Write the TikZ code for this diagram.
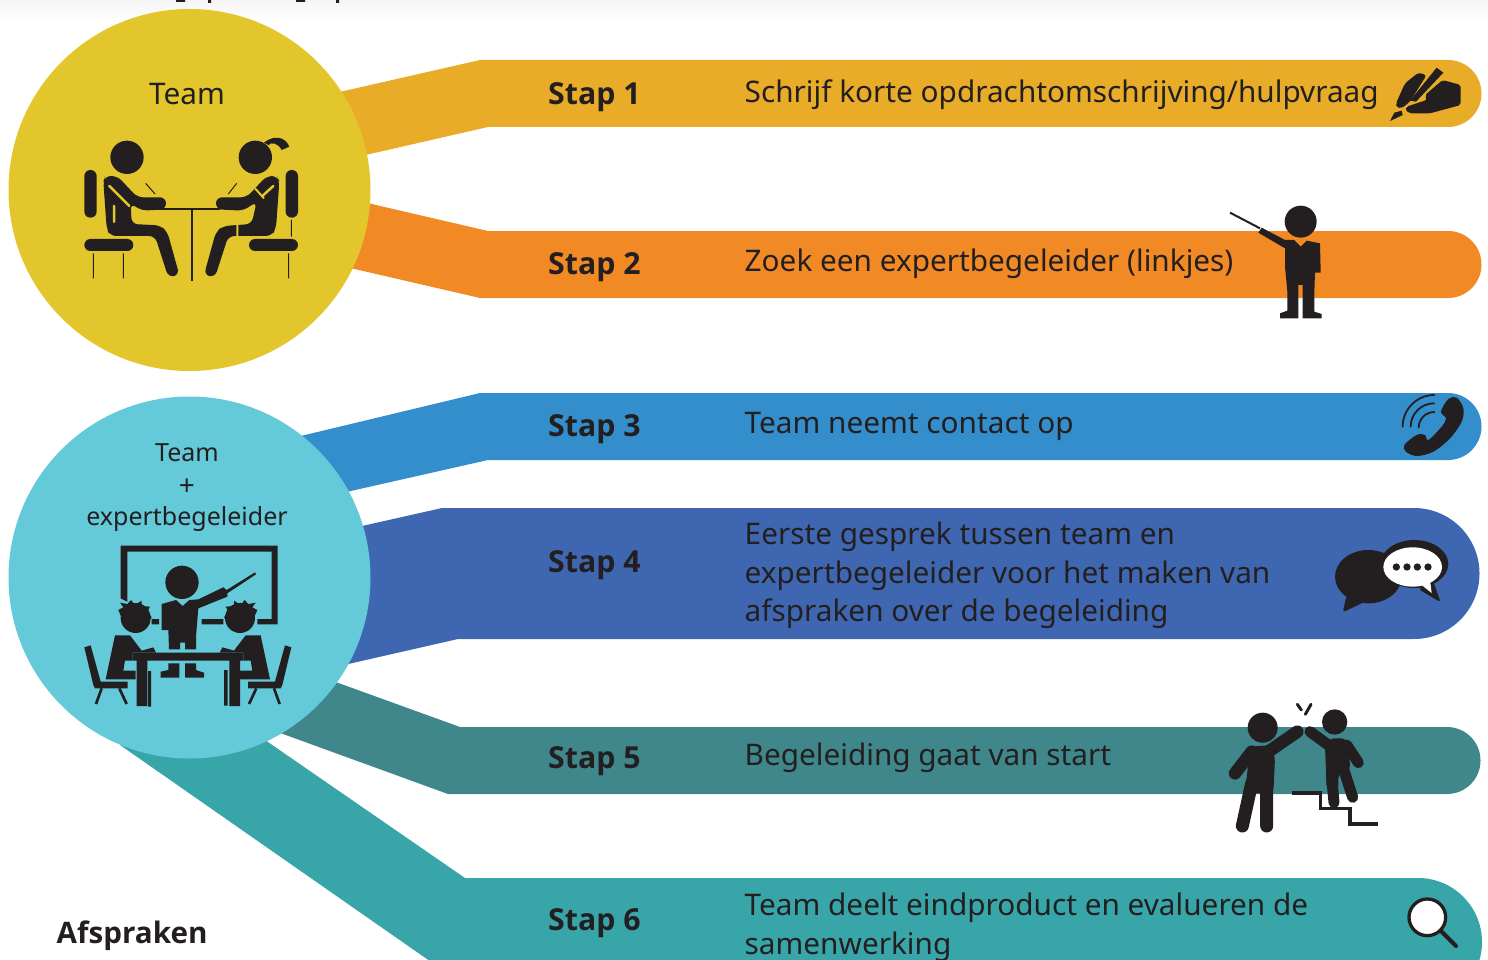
\documentclass[tikz,border=0pt]{standalone}
\usepackage{fontspec}
\setmainfont{Noto Sans}
\newfontfamily\stapfont{Open Sans}
\usetikzlibrary{backgrounds}
\definecolor{ink}{HTML}{231F20}
\definecolor{cyel}{HTML}{E3C62B}
\definecolor{ccya}{HTML}{64C9D8}
\definecolor{bone}{HTML}{E8AC28}
\definecolor{btwo}{HTML}{F18A24}
\definecolor{bthree}{HTML}{348ECB}
\definecolor{bfour}{HTML}{3F67B1}
\definecolor{bfive}{HTML}{3F878B}
\definecolor{bsix}{HTML}{38A6A9}
\tikzset{
 bub/.style={circle,inner sep=0pt,minimum size=362pt},
 steplab/.style={anchor=base west,inner sep=0pt,text=ink,font=\stapfont\fontsize{30.3}{36}\selectfont\bfseries},
 desc/.style={anchor=base west,inner sep=0pt,text=ink,font=\fontsize{29.75}{36}\selectfont},
}
\begin{document}
\begin{tikzpicture}[x=1pt,y=-1pt]
\path[use as bounding box] (0,0) rectangle (1488,960);
\shade[top color=black!4,bottom color=white] (0,0) rectangle (1488,22);
\fill[ink] (176,0) rectangle (185,2) (208,0) rectangle (211,3) (296,0) rectangle (305,2) (336,0) rectangle (339,3);

\node[bub,fill=cyel] (team) at (189.5,190) {};
\node[bub,fill=ccya] (teamexp) at (189.5,577.5) {};

\begin{scope}[on background layer]
\fill[bone] (team.center) -- (300,101) -- (480,60) -- (1448,60) arc[start angle=-90,end angle=90,radius=33.5] -- (488,127) -- (300,170) -- cycle;
\fill[btwo] (team.center) -- (320,192) -- (488,231) -- (1448,231) arc[start angle=-90,end angle=90,radius=33.5] -- (480,298) -- (320,261) -- cycle;
\fill[bthree] (teamexp.center) -- (280,441) -- (480,393) -- (1448,393) arc[start angle=-90,end angle=90,radius=33.5] -- (488,460) -- (280,507) -- cycle;
\fill[bfour] (teamexp.center) -- (300,540) -- (442,508) -- (1414,508) arc[start angle=-90,end angle=90,radius=65.5] -- (458,639) -- (300,675) -- cycle;
\fill[bfive] (teamexp.center) -- (250,651) -- (460,727) -- (1447,727) arc[start angle=-90,end angle=90,radius=33.5] -- (448,794) -- (250,722) -- cycle;
\fill[bsix] (teamexp.center) -- (265,740) -- (465,878) -- (1418,878) arc[start angle=-90,end angle=90,radius=64] -- (1380,1010) -- (500,1010) -- (120,745) -- cycle;
\end{scope}

% texts
\node[anchor=base,inner sep=0pt,text=ink,font=\fontsize{29.75}{36}\selectfont] (t1) at (187,105) {Team};
\node[anchor=base,inner sep=0pt,text=ink,font=\fontsize{25}{30}\selectfont] (t2) at (187,461) {Team};
\node[anchor=base,inner sep=0pt,text=ink,font=\fontsize{28}{30}\selectfont] (t3) at (187,495) {+};
\node[anchor=base,inner sep=0pt,text=ink,font=\fontsize{25}{30}\selectfont] (t4) at (187,525) {expertbegeleider};
\node[anchor=base west,inner sep=0pt,text=ink,font=\stapfont\fontsize{29.6}{36}\selectfont\bfseries] (afs) at (56.5,943) {Afspraken};
\node[steplab] (s1) at (548,105) {Stap 1};
\node[steplab] (s2) at (548,274) {Stap 2};
\node[steplab] (s3) at (548,436) {Stap 3};
\node[steplab] (s4) at (548,572) {Stap 4};
\node[steplab] (s5) at (548,768) {Stap 5};
\node[steplab] (s6) at (548,930) {Stap 6};
\node[desc] (d1) at (744.5,102.5) {Schrijf korte opdrachtomschrijving/hulpvraag};
\node[desc] (d2) at (744.5,271.5) {Zoek een expertbegeleider (linkjes)};
\node[desc] (d3) at (744.5,433.5) {Team neemt contact op};
\node[desc] (d4a) at (744.5,544.5) {Eerste gesprek tussen team en};
\node[desc] (d4b) at (744.5,583.5) {expertbegeleider voor het maken van};
\node[desc] (d4c) at (744.5,621.5) {afspraken over de begeleiding};
\node[desc] (d5) at (744.5,765.5) {Begeleiding gaat van start};
\node[desc] (d6a) at (744.5,915.5) {Team deelt eindproduct en evalueren de};
\node[desc] (d6b) at (744.5,954.5) {samenwerking};

% icon: two people at table
\begin{scope}[shift={(60,120)},scale=1/3]
\fill[ink] (201,112) circle[radius=50] (586,112) circle[radius=50];
\fill[ink,rounded corners=6pt] (73,150) rectangle (110,293) (73,357) rectangle (220,393) (677,150) rectangle (714,293) (567,357) rectangle (714,393);
\draw[ink,line width=1pt] (100,400)--(100,475) (190,400)--(190,475) (686,400)--(686,475) (694,300)--(694,350) (257,190)--(285,222) (530,190)--(505,222);
\draw[ink,line width=2pt] (245,268)--(480,268) (396,268)--(396,482);
\fill[ink,rounded corners=6pt] (130,185)--(135,168)--(172,168)--(232,232)--(318,232)--(318,268)--(245,272)--(212,250)--(215,312)--(300,316)--(322,335)--(358,465)--(325,472)--(285,348)--(150,348)--(140,325)--cycle;
\draw[cyel,line width=2.5pt,line cap=round] (148,198)--(208,258) (162,258)--(162,306);
\fill[ink,rounded corners=6pt] (658,185)--(652,168)--(620,168)--(560,232)--(468,232)--(468,268)--(550,272)--(590,245)--(575,312)--(490,318)--(468,335)--(432,465)--(465,472)--(505,348)--(635,348)--(648,325)--cycle;
\draw[cyel,line width=2.5pt,line cap=round] (640,198)--(606,229);
\draw[cyel,line width=2pt] (585,205)--(612,235) (532,312)--(532,350);
\fill[ink] (612,68) .. controls (640,45) and (675,48) .. (688,80) -- (665,90) .. controls (655,70) and (635,65) .. (625,75) -- cycle;
\end{scope}

% icon: classroom
\begin{scope}[shift={(70,530)},scale=1/3]
\fill[ink] (152,47)--(623,47)--(623,283)--(562,283)--(562,267)--(605,267)--(605,65)--(172,65)--(172,215)--(152,205)--cycle;
\fill[ink] (336,157) circle[radius=50];
\fill[ink] (275,222)--(318,210)--(338,228)--(358,210)--(385,208)--(460,172)--(470,180)--(555,127)--(558,133)--(472,190)--(472,200)--(385,235)--(378,320)--(378,358)--(345,358)--(345,338)--(330,338)--(330,358)--(297,358)--(295,300)--(275,300)--cycle;
\fill[ink] (295,400)--(328,400)--(328,443)--(272,443)--(272,425)--(295,420)--cycle (345,400)--(378,400)--(378,420)--(402,428)--(402,443)--(345,443)--cycle;
\fill[ink] (245,267) rectangle (267,283) (395,267) rectangle (460,283);
\fill[ink] (187,368) rectangle (520,392) (200,392) rectangle (232,528) (478,392) rectangle (510,528) (234,423) rectangle (243,530) (462,420) rectangle (473,527);
\foreach \mm in {1,2}{
\begin{scope}[cm={\ifnum\mm=1 1\else -1\fi,0,0,1,(\ifnum\mm=1 0\else 707\fi,0)}]
\fill[ink] (197,264) circle[radius=45];
\fill[ink] (145,240)--(160,232)--(150,218)--(172,222)--(183,210)--(195,225)--(215,212)--(215,228)--(240,230)--(232,245)--(245,262)--(232,275)--(160,275)--cycle;
\fill[ink] (135,316)--(180,316)--(215,362)--(250,352)--(258,368)--(187,368)--(187,392)--(165,392)--(160,422)--(197,422)--(197,448)--(107,448)--cycle;
\fill[ink] (43,352)--(62,346)--(92,455)--(173,455)--(173,475)--(75,475)--(70,465)--cycle;
\draw[ink,line width=2.7pt] (95,475)--(78,522) (148,475)--(170,522);
\end{scope}}
\end{scope}

% icon: pen and hand
\begin{scope}[shift={(1210,50)},scale=1/3]
\fill[ink,rounded corners=3pt] (558,160)--(585,100)--(625,68)--(650,75)--(600,155)--(575,175)--(560,172)--cycle;
\fill[ink] (680,53)--(700,68)--(618,155)--(600,152)--cycle;
\fill[ink,rounded corners=2pt] (698,90)--(752,105)--(752,165)--(660,190)--(600,190)--(585,180)--(590,170)--(650,150)--(645,135)--cycle;
\fill[ink] (575,182)--(578,195)--(540,213)--(553,188)--cycle;
\end{scope}

% icon: man with pointer
\begin{scope}[shift={(1210,50)},scale=1/3]
\fill[ink] (272,515) circle[radius=48];
\draw[ink,line width=2pt] (60,488)--(150,535);
\fill[ink] (145,548)--(155,533)--(225,570)--(252,570)--(272,590)--(290,572)--(330,580)--(332,668)--(315,668)--(313,728)--(313,785)--(335,792)--(335,805)--(278,805)--(278,705)--(265,705)--(265,805)--(210,805)--(210,790)--(232,782)--(232,725)--(225,650)--(225,595)--cycle;
\end{scope}

% icons: phone and chat
\begin{scope}[shift={(1320,385)},scale=1/3]
\fill[ink] plot[smooth cycle,tension=0.55] coordinates {(363,80) (385,42) (410,38) (430,70) (425,110) (390,160) (340,200) (290,213) (258,200) (253,180) (290,150) (315,150) (325,165) (365,125) (378,100)};
\draw[ink,line width=1.8pt,line cap=round]
 (248,125) arc[start angle=180,end angle=270,radius=95]
 (272,125) arc[start angle=180,end angle=270,radius=70]
 (296,128) arc[start angle=180,end angle=270,radius=47];
\fill[ink] (145,575) ellipse[x radius=100,y radius=80];
\fill[ink,rounded corners=3pt] (80,630)--(68,682)--(135,650)--cycle;
\fill[ink] (283,537) ellipse[x radius=102,y radius=72];
\fill[ink,rounded corners=3pt] (340,590)--(362,652)--(295,612)--cycle;
\fill[white] (278,546) ellipse[x radius=88,y radius=59];
\fill[white] (305,600)--(335,624)--(330,585)--cycle;
\fill[ink] (229,546) circle[radius=11] (261,546) circle[radius=11] (292,546) circle[radius=11] (324,546) circle[radius=11];
\end{scope}

% icons: high five and magnifier
\begin{scope}[shift={(1210,690)},scale=1/3]
\fill[ink] (158,113) circle[radius=45] (374,96) circle[radius=38];
\fill[ink,rounded corners=5pt] (120,170)--(185,165)--(195,205)--(190,310)--(105,310)--cycle;
\draw[ink,line width=12.5pt,line cap=round,line join=round] (125,185)--(75,250) (175,185)--(262,125);
\draw[ink,line width=13pt,line cap=round] (125,280)--(97,408) (170,280)--(170,408);
\fill[ink,rounded corners=5pt] (345,165)--(360,145)--(410,145)--(422,240)--(385,250)--(385,300)--(350,300)--cycle;
\draw[ink,line width=11pt,line cap=round] (300,125)--(355,165) (410,165)--(445,218);
\draw[ink,line width=11pt,line cap=round] (400,235)--(428,322) (365,260)--(372,338);
\draw[ink,line width=3.2pt,line join=miter] (247,309)--(332,309)--(332,356)--(420,356)--(420,402)--(503,402);
\draw[ink,line width=3pt,line cap=round] (262,43)--(274,60) (303,43)--(286,73);
\draw[ink,line width=3.3pt,fill=white] (652,682) circle[radius=55];
\draw[ink,line width=4pt,line cap=round] (695,725)--(738,768);
\end{scope}
\end{tikzpicture}
\end{document}
